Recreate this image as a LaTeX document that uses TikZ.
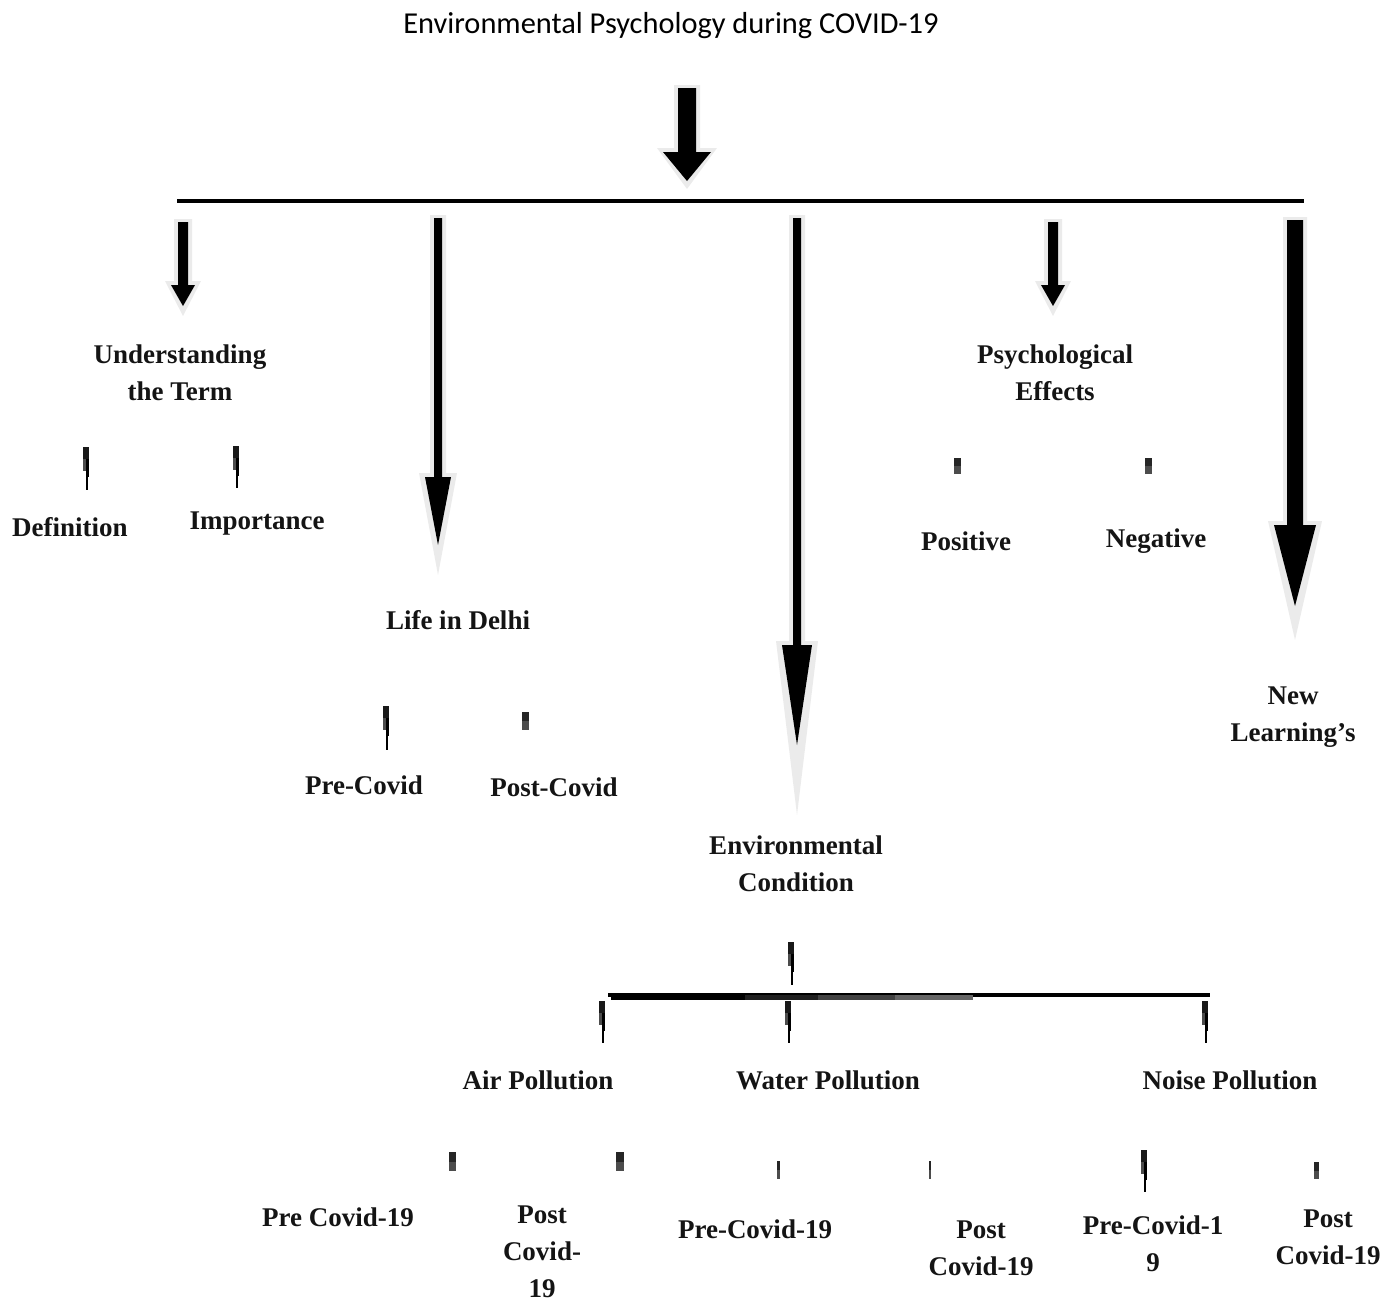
\documentclass[tikz,border=0pt]{standalone}
\usepackage{fontspec}
\setmainfont{Liberation Serif}
\newfontfamily\titlefont{Carlito}
\definecolor{shadowgray}{gray}{0.92}
\tikzset{
  lbl/.style={font=\fontsize{27}{37}\selectfont\bfseries, align=center, text=black!92, inner sep=0pt},
  ttl/.style={font=\titlefont\fontsize{30.4}{32}\selectfont, inner sep=0pt},
  bar/.style={line width=4pt, black},
}
% #1 x, #2 top, #3 head start, #4 tip, #5 half shaft, #6 half head, #7 shadow tip extension
\newcommand\dnarrow[7]{%
  \fill[shadowgray] ({#1-#5-4},{#2-3}) -- ({#1+#5+4},{#2-3}) -- ({#1+#5+4},{#3-4}) -- ({#1+#6+6},{#3-4})
     -- (#1,{#4+#7}) -- ({#1-#6-6},{#3-4}) -- ({#1-#5-4},{#3-4}) -- cycle;
  \fill[black] ({#1-#5},#2) -- ({#1+#5},#2) -- ({#1+#5},#3) -- ({#1+#6},#3)
     -- (#1,#4) -- ({#1-#6},#3) -- ({#1-#5},#3) -- cycle;
}
% tick with thin tail: #1 x, #2 top, #3 bottom
\newcommand\tailtick[3]{%
  \fill[black!90] ({#1-3},#2) rectangle ({#1+3},{#2+12});
  \fill[black!70] ({#1-3},{#2+12}) rectangle ({#1},{#2+24});
  \fill[black] ({#1},{#2+12}) rectangle ({#1+3},{#2+30});
  \fill[black] ({#1},{#2+30}) rectangle ({#1+2},#3);
}
% block tick: #1 x, #2 top, #3 bottom, #4 half width
\newcommand\blocktick[4]{%
  \fill[black!85] ({#1-#4},#2) rectangle ({#1+#4},{(#2+#3)/2});
  \fill[black!70] ({#1-#4},{(#2+#3)/2}) rectangle ({#1+#4},#3);
}
\begin{document}
\begin{tikzpicture}[x=1pt,y=-1pt]
\useasboundingbox (0,0) rectangle (1399,1302);

\node[ttl] (title) at (671,26) {Environmental Psychology during COVID-19};

% main arrow and bar
\dnarrow{687}{88}{152}{181}{9}{24}{8}
\coordinate (barL) at (177,201);
\coordinate (barR) at (1304,201);
\draw[bar] (barL) -- (barR);

% branch arrows
\dnarrow{183}{222}{285}{306}{5}{12}{10}
\dnarrow{438}{218}{477}{545}{4}{13}{30}
\dnarrow{797}{218}{645}{745}{4}{15}{70}
\dnarrow{1053}{222}{285}{306}{5}{12}{10}
\dnarrow{1295}{220}{525}{606}{8}{21}{34}

% Understanding the Term
\node[lbl] (under) at (180,373) {Understanding\\the Term};
\tailtick{86}{447}{490}
\tailtick{236}{446}{488}
\node[lbl] (defn) at (70,527) {Definition};
\node[lbl] (imp) at (257,524) {Importance};

% Life in Delhi
\node[lbl] (delhi) at (458,620) {Life in Delhi};
\tailtick{386}{706}{750}
\blocktick{525}{712}{730}{3.5}
\node[lbl] (prec) at (364,785) {Pre-Covid};
\node[lbl] (postc) at (554,787) {Post-Covid};

% Environmental Condition
\node[lbl] (env) at (796,864) {Environmental\\Condition};
\tailtick{791}{942}{985}
\coordinate (sbarL) at (608,995);
\coordinate (sbarR) at (1210,995);
\draw[bar] (sbarL) -- (sbarR);
\fill[black] (611,995) rectangle (745,1000);
\fill[black!88] (745,995) rectangle (818,1000);
\fill[black!74] (818,995) rectangle (895,1000);
\fill[black!60] (895,995) rectangle (973,1000);
\tailtick{602}{1001}{1043}
\tailtick{788}{1001}{1043}
\tailtick{1205}{1001}{1043}
\node[lbl] (air) at (538,1080) {Air Pollution};
\node[lbl] (water) at (828,1080) {Water Pollution};
\node[lbl] (noise) at (1230,1080) {Noise Pollution};

\blocktick{452}{1152}{1171}{3.5}
\blocktick{620}{1152}{1171}{4}
\blocktick{778}{1161}{1179}{1.5}
\blocktick{930}{1161}{1179}{0.7}
\tailtick{1144}{1150}{1192}
\blocktick{1316}{1162}{1179}{2.5}

\node[lbl] (airpre) at (338,1217) {Pre Covid-19};
\node[lbl] (airpost) at (542,1252) {Post\\Covid-\\19};
\node[lbl] (wpre) at (755,1229) {Pre-Covid-19};
\node[lbl] (wpost) at (981,1248) {Post\\Covid-19};
\node[lbl] (npre) at (1153,1244) {Pre-Covid-1\\9};
\node[lbl] (npost) at (1328,1237) {Post\\Covid-19};

% Psychological Effects
\node[lbl] (psy) at (1055,373) {Psychological\\Effects};
\blocktick{957}{458}{474}{3.5}
\blocktick{1148}{458}{474}{3.5}
\node[lbl] (pos) at (966,541) {Positive};
\node[lbl] (neg) at (1156,541) {Negative};

% New Learning's
\node[lbl] (newl) at (1293,717) {New\\Learning’s};
\end{tikzpicture}
\end{document}
